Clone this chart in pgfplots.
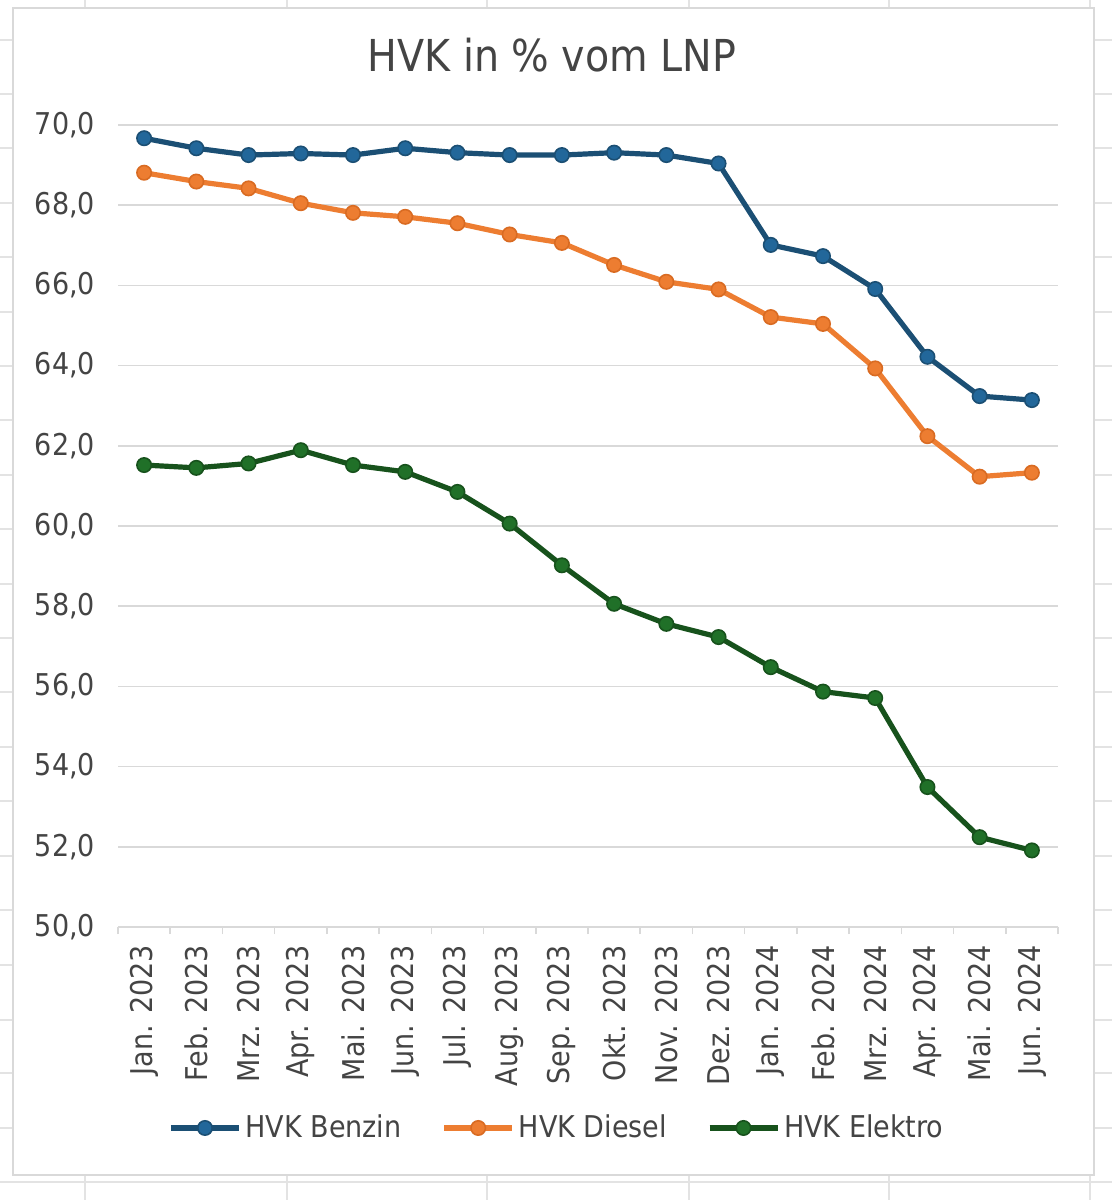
\documentclass[border=0pt]{standalone}
\usepackage{fontspec}
\setmainfont{DejaVu Sans Condensed}
\usepackage{pgfplots}
\pgfplotsset{compat=1.18}
\definecolor{cBenz}{HTML}{22679A}
\definecolor{cBenzD}{HTML}{1B4F74}
\definecolor{cDies}{HTML}{ED7D31}
\definecolor{cDiesD}{HTML}{D96B22}
\definecolor{cElek}{HTML}{207028}
\definecolor{cElekD}{HTML}{17521C}
\definecolor{cGrid}{HTML}{D9D9D9}
\definecolor{cSheet}{HTML}{E3E3E3}
\definecolor{cText}{HTML}{444444}
\begin{document}
\begin{tikzpicture}
\path[use as bounding box] (0pt,0pt) rectangle (556pt,600pt);
\fill[white] (0pt,0pt) rectangle (556pt,600pt);
\foreach \x in {42.5,143.5,243.5,344.5,444.5,545} \draw[cSheet,line width=0.6pt] (\x pt,0pt)--(\x pt,600pt);
\foreach \y in {580,553,526,498.5,471.5,444,417,390,362.5,335.5,308,281,254,226.5,199.5,172,145,117.5,90,63.5,36,9} \draw[cSheet,line width=0.6pt] (0pt,\y pt)--(556pt,\y pt);
\filldraw[fill=white, draw=cGrid, line width=0.8pt] (6.5pt,12.5pt) rectangle (547pt,596pt);
\node[anchor=base, font=\fontsize{22}{26}\selectfont, text=cText] at (276pt,564pt) {HVK in \% vom LNP};
\begin{axis}[
  at={(59pt,136.5pt)}, anchor=south west,
  width=470pt, height=401pt, scale only axis,
  xmin=-0.5, xmax=17.5, ymin=50, ymax=70,
  ytick={50,52,...,70},
  xtick={0,...,17},
  xticklabels={Jan. 2023,Feb. 2023,Mrz. 2023,Apr. 2023,Mai. 2023,Jun. 2023,Jul. 2023,Aug. 2023,Sep. 2023,Okt. 2023,Nov. 2023,Dez. 2023,Jan. 2024,Feb. 2024,Mrz. 2024,Apr. 2024,Mai. 2024,Jun. 2024},
  x tick label style={rotate=90, anchor=east, font=\fontsize{15}{18}\selectfont, text=cText},
  xticklabel shift=5.5pt,
  y tick label style={anchor=east, font=\fontsize{15}{18}\selectfont, text=cText, xshift=-8pt},
  /pgf/number format/assume math mode=true,
  yticklabel style={/pgf/number format/.cd, fixed, fixed zerofill, precision=1, use comma},
  axis x line*=bottom, axis y line*=left,
  y axis line style={draw=none},
  x axis line style={draw=cGrid, line width=0.8pt},
  major tick length=0pt,
  minor xtick={-0.5,0.5,...,17.5},
  minor tick length=3.5pt, tick align=outside,
  minor tick style={cGrid, line width=0.8pt},
  ymajorgrids, grid style={cGrid, line width=0.8pt},
  legend columns=3,
  legend cell align=left,
  legend style={at={(0.468,-0.2506)}, anchor=center, draw=none, fill=none,
    font=\fontsize{15}{18}\selectfont, text=cText,
    /tikz/every even column/.append style={column sep=18pt},
    /tikz/every odd column/.append style={column sep=0pt}},
  legend image code/.code={\draw[mark repeat=2,mark phase=2,#1] plot coordinates {(0pt,0pt) (17pt,0pt) (34pt,0pt)};},
]
\addplot[cBenzD, line width=2.6pt, mark=*, mark size=3.6pt, mark options={fill=cBenz, draw=cBenzD, line width=0.8pt}] coordinates {
(0,69.67) (1,69.42) (2,69.25) (3,69.29) (4,69.25) (5,69.42) (6,69.31) (7,69.25) (8,69.25) (9,69.31) (10,69.25) (11,69.04) (12,67.01) (13,66.73) (14,65.91) (15,64.22) (16,63.24) (17,63.14)};
\addlegendentry{HVK Benzin}
\addplot[cDies, line width=2.6pt, mark=*, mark size=3.6pt, mark options={fill=cDies, draw=cDiesD, line width=0.8pt}] coordinates {
(0,68.81) (1,68.59) (2,68.42) (3,68.05) (4,67.81) (5,67.71) (6,67.55) (7,67.27) (8,67.06) (9,66.51) (10,66.09) (11,65.90) (12,65.21) (13,65.04) (14,63.93) (15,62.24) (16,61.23) (17,61.33)};
\addlegendentry{HVK Diesel}
\addplot[cElekD, line width=2.6pt, mark=*, mark size=3.6pt, mark options={fill=cElek, draw=cElekD, line width=0.8pt}] coordinates {
(0,61.52) (1,61.45) (2,61.56) (3,61.89) (4,61.52) (5,61.35) (6,60.85) (7,60.06) (8,59.02) (9,58.06) (10,57.56) (11,57.23) (12,56.48) (13,55.87) (14,55.71) (15,53.49) (16,52.24) (17,51.91)};
\addlegendentry{HVK Elektro}
\end{axis}
\end{tikzpicture}
\end{document}
